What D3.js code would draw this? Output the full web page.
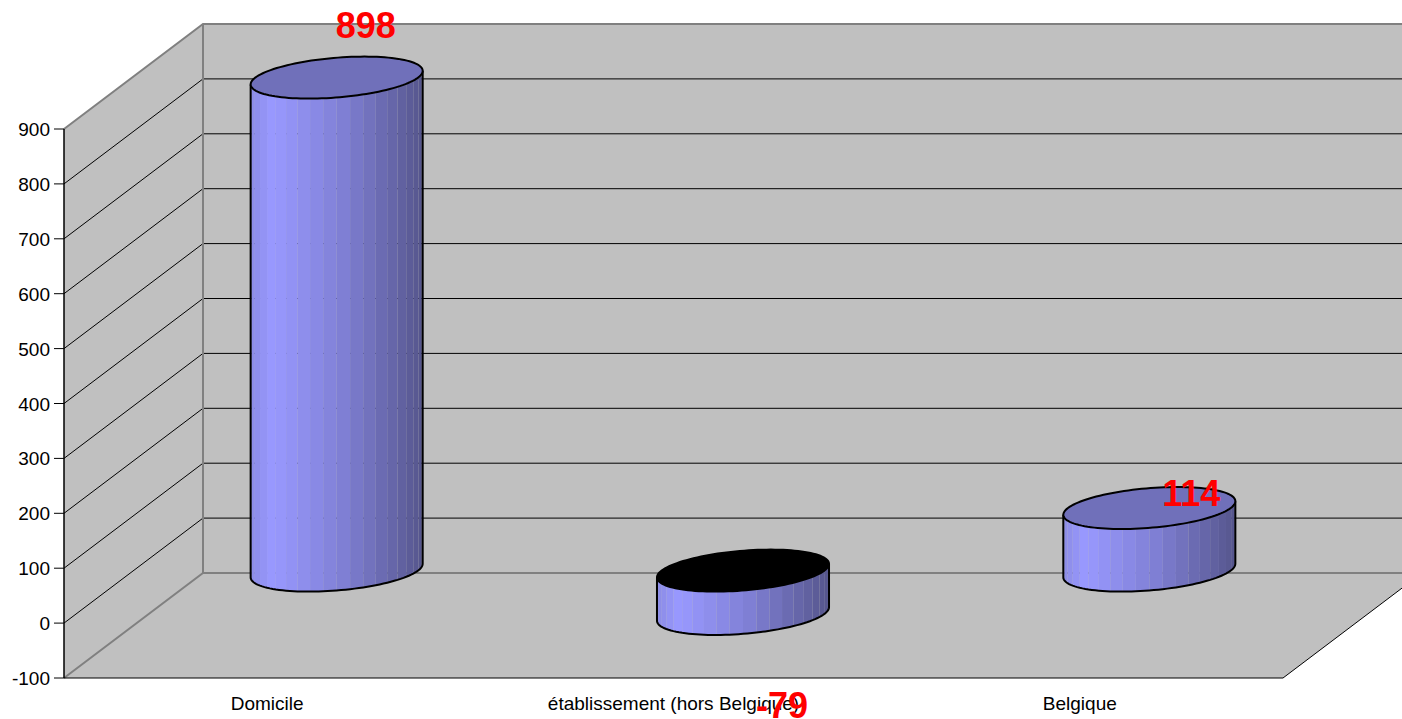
<!DOCTYPE html>
<html>
<head>
<meta charset="utf-8">
<script src="https://cdn.jsdelivr.net/npm/d3@7/dist/d3.min.js"></script>
<style>
  html, body { margin: 0; padding: 0; background: #fff; overflow: hidden; }
  svg { display: block; font-family: "Liberation Sans", Arial, sans-serif; }
</style>
</head>
<body>
<svg id="chart" width="1402" height="719"></svg>
<script>
const categories = ["Domicile", "établissement (hors Belgique)", "Belgique"];
const values = [898, -79, 114];
const yTicks = [-100, 0, 100, 200, 300, 400, 500, 600, 700, 800, 900];

const svg = d3.select("#chart");

// front plane of the 3D box, the back wall is the same thing shifted by depth
const x = d3.scaleBand().domain(categories).range([64, 1283]);
const y = d3.scaleLinear().domain([-100, 900]).range([678, 129]);
const depthX = 139;
const depthY = -105;

const yMin = y(-100);
const yMax = y(900);
const xLeft = x.range()[0];
const xRight = x.range()[1];

function pts(list) {
  return list.map((p) => p.join(",")).join(" ");
}

// walls and floor
svg.append("polygon")
  .attr("points", pts([
    [xLeft, yMin], [xLeft, yMax], [xLeft + depthX, yMax + depthY],
    [xRight + depthX, yMax + depthY], [xRight + depthX, yMin + depthY], [xRight, yMin]
  ]))
  .attr("fill", "#c0c0c0");

// gridlines, side wall then back wall
const grid = svg.append("g");
yTicks.slice(1, -1).forEach((t) => {
  grid.append("polyline")
    .attr("points", pts([
      [xLeft, y(t)], [xLeft + depthX, y(t) + depthY], [xRight + depthX, y(t) + depthY]
    ]))
    .attr("fill", "none")
    .attr("stroke", "#000")
    .attr("stroke-width", 1);
});

// grey wall edges
const edges = [
  [[xLeft, yMax], [xLeft + depthX, yMax + depthY], [xRight + depthX, yMax + depthY]],
  [[xLeft + depthX, yMax + depthY], [xLeft + depthX, yMin + depthY]],
  [[xLeft, yMin], [xLeft + depthX, yMin + depthY], [xRight + depthX, yMin + depthY]]
];
svg.append("g").selectAll("polyline").data(edges).enter().append("polyline")
  .attr("points", (d) => pts(d))
  .attr("fill", "none")
  .attr("stroke", "#808080")
  .attr("stroke-width", 2);

// front and right floor edges
svg.append("polyline")
  .attr("points", pts([[xLeft, yMin], [xRight, yMin], [xRight + depthX, yMin + depthY]]))
  .attr("fill", "none")
  .attr("stroke", "#000")
  .attr("stroke-width", 1);

// y axis, plain hyphen on the negative tick
const axis = svg.append("g")
  .attr("transform", "translate(" + xLeft + ",0)")
  .call(d3.axisLeft(y).tickValues(yTicks).tickFormat((d) => String(d))
    .tickSize(10).tickSizeOuter(0).tickPadding(4).offset(0));
axis.select(".domain").attr("stroke", "#000").attr("stroke-width", 1.5);
axis.selectAll("line").attr("stroke", "#000");
axis.selectAll("text")
  .attr("font-size", "19px")
  .attr("dy", "0.37em")
  .attr("font-family", "'Liberation Sans', Arial, sans-serif")
  .attr("fill", "#000");

// category labels
svg.append("g").selectAll("text").data(categories).enter().append("text")
  .attr("x", (d) => x(d) + x.bandwidth() / 2)
  .attr("y", 710)
  .attr("text-anchor", "middle")
  .attr("font-size", "19px")
  .attr("fill", "#000")
  .text((d) => d);

// cylinders sit half way into the depth
const ax = 81.4; // ellipse vector along x
const rDepth = 0.2; // ellipse vector along depth, as part of the depth
const bx = depthX * rDepth;
const by = depthY * rDepth;
const radius = Math.sqrt(ax * ax + bx * bx);
const phi = Math.atan2(bx, ax);
const facets = 20;

const shade = d3.scaleLinear()
  .domain([0, 0.1, 0.5, 1])
  .range(["#8c8ce6", "#9999ff", "#7f7fd4", "#54548a"]);

function ellipsePoint(cx, cy, t) {
  return [cx + ax * Math.cos(t) + bx * Math.sin(t), cy + by * Math.sin(t)];
}

// theta 0 is the right extreme, PI the left one, going round the front
function frontPoint(cx, cy, theta) {
  return ellipsePoint(cx, cy, phi - theta);
}

function arcPath(cx, cy, from, to, steps) {
  return d3.range(steps + 1).map((i) => frontPoint(cx, cy, from + (to - from) * i / steps));
}

const cyl = svg.append("g").selectAll("g").data(values).enter().append("g");

cyl.each(function (v, i) {
  const g = d3.select(this);
  const cx = x(categories[i]) + x.bandwidth() / 2 + depthX / 2;
  const top = y(Math.max(v, 0)) + depthY / 2;
  const bot = y(Math.min(v, 0)) + depthY / 2;

  // body facets, left to right
  d3.range(facets).forEach((k) => {
    const a = Math.PI * (1 - k / facets);
    const b = Math.PI * (1 - (k + 1) / facets);
    const low = arcPath(cx, bot, a, b, 3);
    const up = low.map((p) => [p[0], p[1] - (bot - top)]).reverse();
    g.append("polygon")
      .attr("points", pts(low.concat(up)))
      .attr("fill", shade((low[0][0] - (cx - radius)) / (2 * radius)));
  });

  // outline of the body
  const outline = arcPath(cx, bot, Math.PI, 0, 60);
  const right = frontPoint(cx, top, 0);
  const left = frontPoint(cx, top, Math.PI);
  g.append("polyline")
    .attr("points", pts([left].concat(outline, [right])))
    .attr("fill", "none")
    .attr("stroke", "#000")
    .attr("stroke-width", 2);

  // cap, a negative bar shows its dark inside
  g.append("path")
    .attr("d", d3.line()(d3.range(121).map((k) => ellipsePoint(cx, top, k / 120 * 2 * Math.PI))) + "Z")
    .attr("fill", v < 0 ? "#000" : "#7070ba")
    .attr("stroke", "#000")
    .attr("stroke-width", 2);
});

// data labels, placed by hand like in the original
const labelShift = [[29, -39.5], [39, 104], [42, -2]];
svg.append("g").selectAll("text").data(values).enter().append("text")
  .attr("x", (d, i) => x(categories[i]) + x.bandwidth() / 2 + depthX / 2 + labelShift[i][0])
  .attr("y", (d, i) => y(d) + depthY / 2 + labelShift[i][1])
  .attr("text-anchor", "middle")
  .attr("font-size", "36px")
  .attr("font-weight", "bold")
  .attr("fill", "#ff0000")
  .text((d) => d);
</script>
</body>
</html>
